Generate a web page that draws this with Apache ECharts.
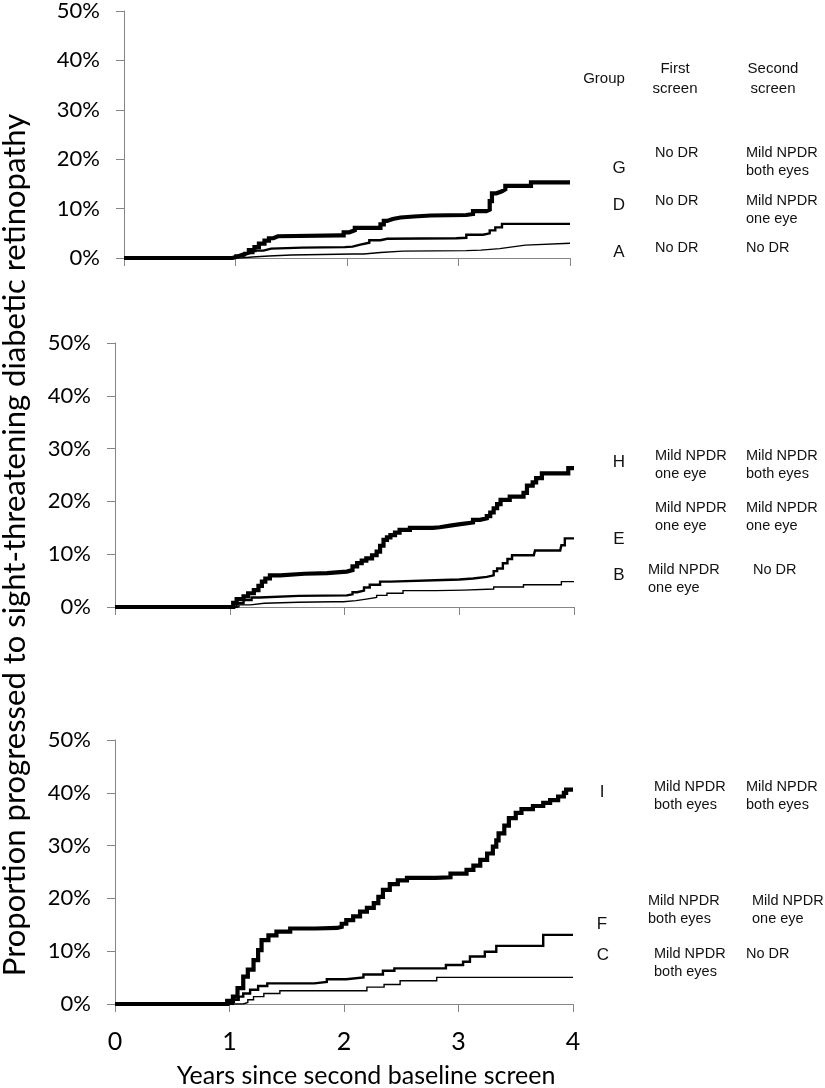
<!DOCTYPE html>
<html>
<head>
<meta charset="utf-8">
<script src="https://cdn.jsdelivr.net/npm/echarts@6/dist/echarts.min.js"></script>
<style>
html,body{margin:0;padding:0;background:#fff;}
#chart{width:825px;height:1088px;}
</style>
</head>
<body>
<div id="chart"></div>
<script>
// x tick labels and y ticks
const xTicks = [0, 1, 2, 3, 4];
const yMax = 50;
const yStep = 10;

// Panel 1 (first screen No DR): [years, percent]
const groupG = [[0,0],[0.93,0],[0.97,0.3],[1.02,0.7],[1.07,1.1],[1.12,1.6],[1.17,2.2],[1.21,2.9],[1.26,3.5],[1.30,4.0],[1.34,4.4],[1.38,4.6],[1.94,4.6],[1.97,5.2],[2.02,5.6],[2.07,6.1],[2.27,6.1],[2.30,6.8],[2.33,7.5],[2.36,7.9],[2.41,8.2],[2.48,8.4],[2.60,8.6],[2.75,8.7],[3.07,8.9],[3.13,9.5],[3.25,9.8],[3.28,11.5],[3.30,13.1],[3.34,13.5],[3.39,13.9],[3.42,14.6],[3.63,14.6],[3.65,15.3],[4,15.3]];
const groupD = [[0,0],[0.93,0],[1.0,0.5],[1.08,1.0],[1.16,1.5],[1.25,1.9],[1.32,2.1],[1.6,2.2],[1.98,2.3],[2.05,2.7],[2.12,3.1],[2.2,3.6],[2.3,3.9],[2.36,4.0],[2.98,4.1],[3.07,4.7],[3.22,5.0],[3.28,5.6],[3.33,6.2],[3.39,6.9],[4,6.9]];
const groupA = [[0,0],[0.95,0],[1.05,0.2],[1.15,0.4],[1.3,0.6],[1.5,0.8],[2.05,0.8],[2.15,1.1],[2.3,1.4],[2.5,1.5],[3.07,1.6],[3.2,1.9],[3.37,2.3],[3.5,2.6],[3.6,3.0],[4,3.0]];

// Panel 2 (first screen Mild NPDR one eye)
const groupH = [[0,0],[1.0,0],[1.03,0.8],[1.06,1.5],[1.12,2.0],[1.16,2.6],[1.21,3.2],[1.25,4.0],[1.28,4.8],[1.31,5.4],[1.35,6.0],[1.44,6.3],[1.65,6.4],[1.85,6.6],[1.96,6.7],[2.02,7.0],[2.07,7.7],[2.11,8.3],[2.15,8.8],[2.19,9.2],[2.24,9.8],[2.28,10.5],[2.31,11.6],[2.34,12.7],[2.37,13.2],[2.40,13.6],[2.44,14.1],[2.48,14.6],[2.57,15.0],[2.77,15.1],[2.83,15.4],[2.92,15.7],[3.01,16.0],[3.12,16.5],[3.18,16.8],[3.24,17.2],[3.27,17.9],[3.30,18.7],[3.33,19.5],[3.36,20.3],[3.44,20.9],[3.56,21.6],[3.59,23.0],[3.64,23.6],[3.67,24.4],[3.72,25.3],[3.93,25.3],[3.95,26.3],[4,26.3]];
const groupE = [[0,0],[1.0,0],[1.06,0.7],[1.12,1.3],[1.19,1.8],[1.26,2.1],[1.6,2.2],[2.02,2.4],[2.07,2.8],[2.11,3.1],[2.17,3.7],[2.22,4.2],[2.31,4.8],[2.40,5.1],[2.86,5.2],[3.0,5.4],[3.12,5.7],[3.24,6.0],[3.30,6.8],[3.33,7.3],[3.38,8.3],[3.42,9.1],[3.46,9.8],[3.65,10.0],[3.66,10.7],[3.88,10.7],[3.89,11.7],[3.92,13.0],[4,13.0]];
const groupB = [[0,0],[1.0,0],[1.08,0.4],[1.18,0.7],[1.3,0.9],[1.6,1.0],[1.90,1.0],[1.99,1.2],[2.1,1.5],[2.19,1.8],[2.28,2.2],[2.37,2.6],[2.51,3.1],[2.8,3.2],[3.04,3.4],[3.30,3.8],[3.56,4.2],[3.89,4.8],[4,4.8]];

// Panel 3 (first screen Mild NPDR both eyes)
const groupI = [[0,0],[0.94,0],[0.98,0.6],[1.03,1.4],[1.07,3.0],[1.12,5.2],[1.16,6.5],[1.21,8.3],[1.25,10.2],[1.28,12.1],[1.34,13.0],[1.41,13.7],[1.53,14.3],[1.75,14.4],[1.94,14.6],[1.98,15.2],[2.02,15.9],[2.08,16.6],[2.14,17.5],[2.20,18.2],[2.26,19.1],[2.30,20.3],[2.34,21.6],[2.40,22.7],[2.47,23.4],[2.55,23.9],[2.80,24.0],[2.93,24.7],[3.07,25.4],[3.13,26.2],[3.19,27.3],[3.25,28.5],[3.30,29.8],[3.33,31.0],[3.35,32.3],[3.40,33.8],[3.44,35.2],[3.50,36.2],[3.55,36.9],[3.65,37.5],[3.74,38.1],[3.80,38.6],[3.87,39.3],[3.92,40.0],[3.94,40.6],[4,40.6]];
const groupF = [[0,0],[0.96,0],[1.03,0.8],[1.08,1.4],[1.12,2.0],[1.18,2.7],[1.25,3.4],[1.33,3.9],[1.74,4.2],[1.85,4.7],[2.02,5.05],[2.17,5.6],[2.34,6.3],[2.44,6.75],[2.89,7.4],[3.04,8.0],[3.10,9.0],[3.23,9.9],[3.33,11.0],[3.74,13.1],[4,13.1]];
const groupC = [[0,0],[1.0,0],[1.12,0.3],[1.16,0.8],[1.21,1.4],[1.30,2.0],[1.44,2.5],[2.20,3.2],[2.35,3.7],[2.49,4.4],[2.81,5.05],[4,5.05]];

// Annotation table texts
const header = ['Group', 'First\nscreen', 'Second\nscreen'];
const rowsP1 = [['G','No DR','Mild NPDR\nboth eyes'],['D','No DR','Mild NPDR\none eye'],['A','No DR','No DR']];
const rowsP2 = [['H','Mild NPDR\none eye','Mild NPDR\nboth eyes'],['E','Mild NPDR\none eye','Mild NPDR\none eye'],['B','Mild NPDR\none eye','No DR']];
const rowsP3 = [['I','Mild NPDR\nboth eyes','Mild NPDR\nboth eyes'],['F','Mild NPDR\nboth eyes','Mild NPDR\none eye'],['C','Mild NPDR\nboth eyes','No DR']];
const yTitle = 'Proportion progressed to sight-threatening diabetic retinopathy';
const xTitle = 'Years since second baseline screen';

const AXIS_GRAY = '#868686';
const CAL = 'Lato, "Open Sans", sans-serif';
const ARL = '"Liberation Sans", Arial, sans-serif';

const grids = [
  {left:124, width:446, top:11, height:247},
  {left:115, width:459, top:343, height:264},
  {left:115, width:458, top:740, height:264}
];

function xAxis(i, showLabels){
  return {
    type:'value', gridIndex:i, min:xTicks[0], max:xTicks[xTicks.length-1], interval:1,
    axisLine:{show:true, lineStyle:{color:AXIS_GRAY, width:1}},
    axisTick:{show:true, inside:false, length:8, lineStyle:{color:AXIS_GRAY}},
    axisLabel:{show:showLabels, fontFamily:CAL, fontSize:25, color:'#000', margin:25},
    splitLine:{show:false}
  };
}
function yAxis(i){
  return {
    type:'value', gridIndex:i, min:0, max:yMax, interval:yStep,
    axisLine:{show:true, lineStyle:{color:AXIS_GRAY, width:1}},
    axisTick:{show:true, inside:false, length:8, lineStyle:{color:AXIS_GRAY}},
    axisLabel:{fontFamily:CAL, fontSize:22, color:'#000', margin:24, formatter:'{value}%'},
    splitLine:{show:false}
  };
}
function line(data, i, w){
  return {type:'line', xAxisIndex:i, yAxisIndex:i, data:data, step:'end', showSymbol:false,
    lineStyle:{color:'#000', width:w, join:'miter'}, animation:false, silent:true};
}

const graphics = [];
function txt(x, y, text, size, align, family, lh){
  graphics.push({type:'text', x:x, y:y, silent:true, style:{text:text, fontSize:size, fontFamily:family||ARL,
    fill:'#111', align:align||'left', verticalAlign:'top', lineHeight:lh||18}});
}
// Header (panel 1)
txt(604, 70, header[0], 15, 'center');
txt(675, 59, header[1], 15, 'center', ARL, 20);
txt(773, 59, header[2], 15, 'center', ARL, 20);

// Row positions: [letterX, letterY, c1x, c1y, c2x, c2y]
const posP1 = [[619,159,655,144,746,144],[619,196,655,192,746,192],[619,243,655,239,746,239]];
const posP2 = [[619,453,655,447,746,447],[619,530,655,499,746,499],[619,566,648,561,753,561]];
const posP3 = [[602,783,654,778,746,778],[602,915,648,892,752,892],[603,946,654,945,746,945]];
function rows(r, p){
  r.forEach((row, k)=>{
    const q = p[k];
    txt(q[0], q[1], row[0], 17, 'center');
    txt(q[2], q[3], row[1], 14.5, 'left');
    txt(q[4], q[5], row[2], 14.5, 'left');
  });
}
rows(rowsP1, posP1); rows(rowsP2, posP2); rows(rowsP3, posP3);

graphics.push({type:'text', x:15, y:545, rotation:Math.PI/2, silent:true,
  style:{text:yTitle, fontSize:31, fontFamily:CAL, fill:'#000', align:'center', verticalAlign:'middle'}});
graphics.push({type:'text', x:366, y:1076, silent:true,
  style:{text:xTitle, fontSize:25, fontFamily:CAL, fill:'#000', align:'center', verticalAlign:'middle'}});

const chart = echarts.init(document.getElementById('chart'), null, {renderer:'canvas'});
chart.setOption({
  animation:false,
  backgroundColor:'#fff',
  grid: grids,
  xAxis:[xAxis(0,false), xAxis(1,false), xAxis(2,true)],
  yAxis:[yAxis(0), yAxis(1), yAxis(2)],
  series:[
    line(groupA,0,1.4), line(groupD,0,2.4), line(groupG,0,4.2),
    line(groupB,1,1.4), line(groupE,1,2.4), line(groupH,1,4.2),
    line(groupC,2,1.4), line(groupF,2,2.4), line(groupI,2,4.2)
  ],
  graphic: graphics
});
</script>
</body>
</html>
